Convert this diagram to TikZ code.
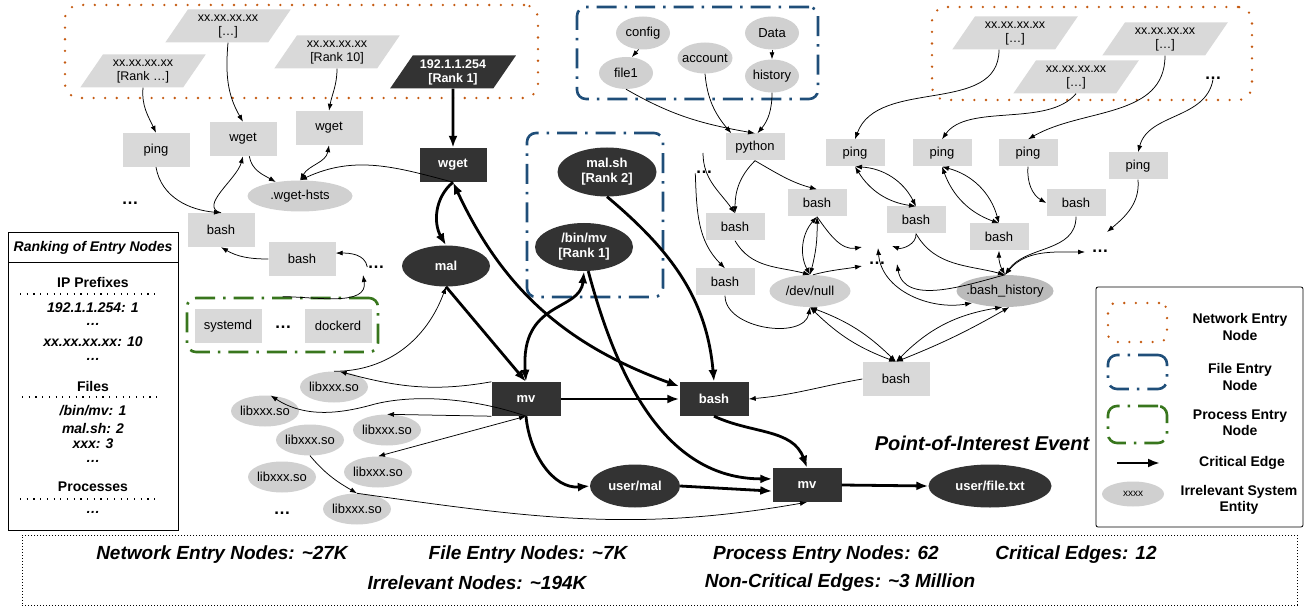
\documentclass[tikz,border=0pt]{standalone}
\usepackage{fontspec}
\setmainfont{Liberation Sans}
\usepackage{xcolor}
\usepackage{tikz}
\usetikzlibrary{shapes.geometric, arrows.meta, positioning}

\definecolor{netorange}{HTML}{C55A11}
\definecolor{fileblue}{HTML}{1F4E79}
\definecolor{procgreen}{HTML}{38761D}
\definecolor{darknode}{HTML}{333333}
\definecolor{lightbox}{HTML}{D9D9D9}
\definecolor{lightell}{HTML}{D0D0D0}

\begin{document}
\begin{tikzpicture}[x=1pt, y=-1pt, >={Latex[length=7pt,width=5pt]},
                    every node/.style={font=\fontsize{13}{15}\selectfont, align=center},
                    proc/.style={rectangle, fill=lightbox, minimum width=67pt, minimum height=34pt, inner sep=1pt},
                    sproc/.style={proc, minimum width=59pt, minimum height=27pt},
                    dproc/.style={proc, fill=darknode, text=white, font=\fontsize{13}{15}\selectfont\bfseries},
                    ent/.style={ellipse, fill=lightell, inner sep=0pt, inner xsep=-3pt, minimum width=68pt, minimum height=31pt},
                    dent/.style={ellipse, fill=darknode, text=white, inner sep=0pt, font=\fontsize{13}{15}\selectfont\bfseries},
                    ip/.style={trapezium, trapezium left angle=55, trapezium right angle=125, trapezium stretches=true,
                               fill=lightbox, minimum width=126pt, minimum height=33pt, inner sep=1pt,
                               font=\fontsize{12.5}{14}\selectfont},
                    dip/.style={ip, fill=darknode, text=white, font=\fontsize{12.5}{14}\selectfont\bfseries},
                    ellip/.style={inner sep=0pt, font=\fontsize{17}{17}\selectfont\bfseries},
                    netgrp/.style={draw=netorange, line width=2.6pt, dash pattern=on 0pt off 11.6pt, line cap=round, rounded corners=14pt},
                    filegrp/.style={draw=fileblue, line width=2.6pt, dash pattern=on 20pt off 8pt on 2.5pt off 8pt, rounded corners=9pt},
                    procgrp/.style={filegrp, draw=procgreen},
                    flow/.style={line width=0.75pt, ->},
                    crit/.style={line width=2.8pt, >={Latex[length=12pt,width=9pt]}, ->},
                    legtext/.style={font=\fontsize{14}{16.5}\selectfont\bfseries},
                    rankcat/.style={font=\fontsize{14}{16}\selectfont\bfseries},
                    rankitem/.style={font=\fontsize{14}{16}\selectfont\bfseries\itshape},
                    ranksep/.style={line width=1.2pt, dash pattern=on 1.2pt off 5.5pt},
                    sumtext/.style={font=\fontsize{19}{22}\selectfont\bfseries\itshape}]

\useasboundingbox (0,0) rectangle (1305,609);

% Entry node groups
\node[netgrp, minimum width=473pt, minimum height=93pt] (netL) at (301.5,51.5) {};
\node[netgrp, minimum width=320pt, minimum height=93pt] (netR) at (1092,53.5) {};
\node[filegrp, minimum width=241pt, minimum height=92pt] (fileT) at (697.5,53) {};
\node[filegrp, minimum width=136pt, minimum height=164pt] (fileM) at (595,215) {};
\node[procgrp, minimum width=191pt, minimum height=54pt] (procG) at (282.5,325) {};

% Network entry nodes
\node[ip] (ipA) at (143,71) {xx.xx.xx.xx\\{}[Rank …]};
\node[ip] (ipB) at (228,26) {xx.xx.xx.xx\\{}[…]};
\node[ip] (ipC) at (337,52) {xx.xx.xx.xx\\{}[Rank 10]};
\node[dip] (ipMal) at (453,72) {192.1.1.254\\{}[Rank 1]};
\node[ip] (ipD) at (1015,33) {xx.xx.xx.xx\\{}[…]};
\node[ip] (ipE) at (1165,39) {xx.xx.xx.xx\\{}[…]};
\node[ip] (ipF) at (1076,77) {xx.xx.xx.xx\\{}[…]};
\node[ellip] (dotsN) at (1213,78) {…};

% Left processes
\node[proc] (ping1) at (156,150) {ping};
\node[proc] (wget1) at (243,139) {wget};
\node[proc] (wget2) at (329,128) {wget};
\node[dproc] (wgetMal) at (453,165) {wget};
\node[ent, minimum width=105pt] (hsts) at (300,196) {.wget-hsts};
\node[ellip] (dotsL) at (130,203) {…};
\node[proc] (bash1) at (221,230) {bash};
\node[proc] (bash2) at (302,259) {bash};
\node[ellip] (dotsB) at (376,267) {…};
\node[dent, minimum width=88pt, minimum height=41pt] (mal) at (446,266) {mal};
\node[proc] (systemd) at (228,326) {systemd};
\node[ellip] (dotsP) at (283,327) {…};
\node[proc] (dockerd) at (338,326) {dockerd};

% Libraries
\node[ent] (lib1) at (334,387) {libxxx.so};
\node[ent] (lib2) at (265,411) {libxxx.so};
\node[ent] (lib3) at (387,430) {libxxx.so};
\node[ent] (lib4) at (310,440) {libxxx.so};
\node[ent] (lib5) at (378,472) {libxxx.so};
\node[ent] (lib6) at (282,477) {libxxx.so};
\node[ent] (lib7) at (357,509) {libxxx.so};
\node[ellip] (dotsLib) at (282,513) {…};

% Attack chain
\node[dent, minimum width=99pt, minimum height=49pt] (malSh) at (607,172) {mal.sh\\{}[Rank 2]};
\node[dent, minimum width=98pt, minimum height=48pt] (binMv) at (584,247) {/bin/mv\\{}[Rank 1]};
\node[dproc, minimum width=69pt] (mv1) at (526,399) {mv};
\node[dproc, minimum width=69pt] (bashMal) at (714,399) {bash};
\node[dent, minimum width=90pt, minimum height=43pt] (userMal) at (635,486) {user/mal};
\node[dproc, minimum width=69pt] (mv2) at (807,485) {mv};
\node[dent, minimum width=123pt, minimum height=43pt] (fileTxt) at (990,486) {user/file.txt};
\node[font=\fontsize{20}{24}\selectfont\bfseries\itshape] (poi) at (982,443) {Point-of-Interest Event};

% File entry nodes
\node[ent, minimum width=54pt, minimum height=33pt] (config) at (643,33) {config};
\node[ent, minimum width=54pt, minimum height=32pt] (file1) at (626,73) {file1};
\node[ent, minimum width=55pt, minimum height=31pt, inner xsep=-6pt] (account) at (705,58) {account};
\node[ent, minimum width=54pt, minimum height=33pt] (data) at (772,33) {Data};
\node[ent, minimum width=54pt, minimum height=33pt] (history) at (772,76) {history};
\node[sproc] (python) at (755,147) {python};

% Right processes
\node[sproc] (pingA) at (855,153) {ping};
\node[sproc] (pingB) at (942,153) {ping};
\node[sproc] (pingC) at (1028,153) {ping};
\node[sproc] (pingD) at (1138,166) {ping};
\node[sproc] (bashP1) at (817,203) {bash};
\node[sproc] (bashP0) at (735,227) {bash};
\node[sproc] (bashL) at (725,282) {bash};
\node[sproc] (bashA) at (916,220) {bash};
\node[sproc] (bashB) at (999,237) {bash};
\node[sproc] (bashC) at (1076,203) {bash};
\node[ent, minimum width=81pt, minimum height=32pt] (devnull) at (810,291) {/dev/null};
\node[ent, minimum width=97pt, minimum height=32pt, inner xsep=-8pt, fill=lightell!90!black] (bashHist) at (1005,291) {.bash\_history};
\node[proc] (bashR) at (896,379) {bash};
\node[ellip] (dotsPy) at (704,172) {…};
\node[ellip] (dotsM) at (877,263) {…};
\node[ellip] (dotsR) at (1100,251) {…};

% Loose ends
\coordinate (pyTop) at (703,153);
\coordinate (tipA) at (892,246);
\coordinate (tipB) at (897,264);
\coordinate (tipC) at (878,248);
\coordinate (tipD) at (862,247);
\coordinate (tipE) at (862,266);
\coordinate (tipF) at (1107,232);
\coordinate (tipG) at (1085,252);
\coordinate (tipH) at (363,275);

% Left connections
\draw[flow] (ipA.south) to[out=-95,in=115] (ping1.north);
\draw[flow] (ipB.south) to[out=-95,in=120] (wget1.north);
\draw[flow] (ipC.south) to[out=-90,in=80] (wget2.north);
\draw[crit] (ipMal.south) -- (wgetMal.north);
\draw[flow] (ping1.south) to[out=-80,in=175] (bash1.north);
\draw[flow] (bash1.north) to[out=165,in=-105] (wget1.south);
\draw[flow] (wget1.-70) to[out=-80,in=150] (hsts.150);
\draw[flow, <->] (wget2.south) to[out=-100,in=60] (hsts.north);
\draw[flow] (wgetMal.south) to[out=165,in=25] (hsts.north);
\draw[flow] (bash2.west) to[out=180,in=-30] (bash1.south);
\draw[flow] (dotsB.west) to[out=100,in=0] (bash2.10);
\draw[flow] (procG.north) to[out=0,in=-80] (tipH);

% Library connections
\draw[flow] (lib1.north) to[out=0,in=-110] (mal.south);
\draw[flow] (mv1.north west) to[out=190,in=-15] (lib1.70);
\draw[flow] (mv1.south) .. controls (480,400) and (420,393) .. (375,404) .. controls (340,414) and (305,418) .. (lib2.70);
\draw[flow] (mv1.south west) -- (lib3.north);
\draw[flow, <->] (mv1.south) -- (lib5.north);
\draw[flow] (lib4.south) to[out=-50,in=150] (lib7.north);
\draw[flow] (lib7.north) to[out=-8,in=-170] (mv2.south);

% Critical edges
\draw[crit] (wgetMal.south) to[out=-140,in=120] (mal.north);
\draw[crit, <->] (wgetMal.south) to[out=-65,in=160] (bashMal.160);
\draw[crit] (mal.south) -- (mv1.north);
\draw[crit, <->] (mv1.north) .. controls (520,300) and (580,312) .. (binMv.south);
\draw[crit] (malSh.south) to[out=-40,in=95] (bashMal.north);
\draw[crit] (mv1.east) -- (bashMal.west);
\draw[crit] (mv1.south) to[out=-85,in=185] (userMal.west);
\draw[crit] (userMal.east) -- (mv2.190);
\draw[crit] (bashMal.south) to[out=-25,in=110] (mv2.north);
\draw[crit] (binMv.-80) to[out=-75,in=180] (mv2.170);
\draw[crit] (mv2.east) -- (fileTxt.west);
\draw[flow] (bashR.west) to[out=190,in=5] (bashMal.east);

% Right connections
\draw[flow] (file1.south) to[out=-30,in=170] (python.north);
\draw[flow] (account.south) to[out=-85,in=130] (python.150);
\draw[flow] (history.south) to[out=-90,in=50] (python.80);
\draw[flow] (config.-105) -- (file1.70);
\draw[flow] (data.south) -- (history.north);
\draw[flow] ([xshift=-16pt]ipD.south) to[out=-90,in=70] (pingA.north);
\draw[flow] (ipF.south) to[out=-130,in=55,looseness=0.8] (pingB.north);
\draw[flow] (ipE.south) to[out=-90,in=30] (pingC.north);
\draw[flow] (dotsN.south) to[out=-100,in=75] (pingD.north);
\draw[flow] (pingD.south) to[out=-85,in=40] (tipF);
\draw[flow] (pingC.south) to[out=-95,in=150] (bashC.west);
\draw[flow] (bashC.south) to[out=-90,in=55] (bashHist.north);
\draw[flow, <->] (pingB.south) to[bend left=30] (bashB.north);
\draw[flow, <->] (pingB.south) to[bend right=25] (bashB.north);
\draw[flow, <->] (pingA.south) to[bend left=30] (bashA.north);
\draw[flow, <->] (pingA.south) to[bend right=25] (bashA.north);
\draw[flow, <->] (bashB.south) to[bend right=15] (bashHist.north);
\draw[flow, <->] (bashHist.north) to[out=50,in=180] (tipG);
\draw[flow] (bashA.south) to[out=-60,in=165] (bashHist.north);
\draw[flow] (bashA.south) to[out=-85,in=-20] (tipA);
\draw[flow] (bashHist.north) to[out=195,in=-80] (tipB);
\draw[flow, <->] (tipC) to[out=-85,in=190] (bashHist.-160);
\draw[flow, <->] (bashR.north) to[bend left=12] (devnull.south);
\draw[flow, <->] (bashR.north) to[bend right=12] (devnull.south);
\draw[flow, <->] (bashR.north) to[bend left=18] (bashHist.-100);
\draw[flow, <->] (bashR.north) to[bend right=4] (bashHist.-75);
\draw[flow] (bashL.south) to[out=-90,in=-100] (devnull.south);
\draw[flow] (bashP0.south) to[out=-60,in=165] (devnull.north);
\draw[flow, <->] (bashP1.south) to[bend right=35] (devnull.north);
\draw[flow, <->] (bashP1.south) to[bend left=8] (devnull.north);
\draw[flow] (bashP1.south) to[out=-55,in=190] (tipD);
\draw[flow] (devnull.80) to[out=15,in=190] (tipE);
\draw[flow] (python.south) to[out=-135,in=90] (bashP0.north);
\draw[flow] (python.south) to[out=-30,in=165] (bashP1.north);
\draw[flow] (pyTop) to[out=-90,in=125] (bashP0.north);
\draw[flow] (dotsPy.south west) to[out=-88,in=135] (bashL.north);

% Ranking table
\node[draw, line width=1pt, minimum width=170pt, minimum height=297pt] (rankBox) at (93,381.5) {};
\draw[line width=1pt] (8,263) -- (178,263);
\node[rankitem] (rankHead) at (93,248) {Ranking of Entry Nodes};
\node[rankcat] (catIP) at (93,282) {IP Prefixes};
\draw[ranksep] (20,294) -- (158,294);
\node[rankitem] (ip1) at (93,308) {192.1.1.254: 1};
\node[rankitem] (ip2) at (93,324) {…};
\node[rankitem] (ip3) at (93,342) {xx.xx.xx.xx: 10};
\node[rankitem] (ip4) at (93,359) {…};
\node[rankcat] (catFile) at (93,386) {Files};
\draw[ranksep] (22,397) -- (160,397);
\node[rankitem] (file1r) at (93,411) {/bin/mv: 1};
\node[rankitem] (file2r) at (93,428) {mal.sh: 2};
\node[rankitem] (file3r) at (93,444) {xxx: 3};
\node[rankitem] (file4r) at (93,461) {…};
\node[rankcat] (catProc) at (93,487) {Processes};
\draw[ranksep] (20,499) -- (160,499);
\node[rankitem] (proc1r) at (93,512) {…};

% Legend
\node[draw, line width=0.8pt, rounded corners=2pt, minimum width=207pt, minimum height=240pt] (legend) at (1199.5,407) {};
\node[netgrp, minimum width=59pt, minimum height=39pt, rounded corners=8pt] (legNet) at (1137.5,322.5) {};
\node[filegrp, minimum width=59pt, minimum height=34pt] (legFile) at (1137.5,372) {};
\node[procgrp, minimum width=59pt, minimum height=37pt] (legProc) at (1137.5,424.5) {};
\coordinate (legA) at (1117,463);
\coordinate (legB) at (1160,463);
\draw[crit] (legA) -- (legB);
\node[ent, minimum width=62pt, minimum height=25pt, font=\fontsize{10}{12}\selectfont] (legEnt) at (1133,494) {xxxx};
\node[legtext] (legNetT) at (1240,327) {Network Entry\\Node};
\node[legtext] (legFileT) at (1240,377) {File Entry\\Node};
\node[legtext] (legProcT) at (1240,423) {Process Entry\\Node};
\node[legtext] (legCritT) at (1242,463) {Critical Edge};
\node[legtext] (legEntT) at (1239,500) {Irrelevant System\\Entity};

% Summary
\node[draw, line width=0.8pt, dash pattern=on 0.8pt off 2.2pt, minimum width=1275pt, minimum height=70pt] (summary) at (659.5,570) {};
\node[sumtext] (sumNet) at (222,555) {Network Entry Nodes: \textasciitilde 27K};
\node[sumtext] (sumFile) at (528,555) {File Entry Nodes: \textasciitilde 7K};
\node[sumtext] (sumProc) at (826,555) {Process Entry Nodes: 62};
\node[sumtext] (sumCrit) at (1076,555) {Critical Edges: 12};
\node[sumtext] (sumIrr) at (477,583) {Irrelevant Nodes: \textasciitilde 194K};
\node[sumtext] (sumNon) at (840,583) {Non-Critical Edges: \textasciitilde 3 Million};

\end{tikzpicture}
\end{document}
